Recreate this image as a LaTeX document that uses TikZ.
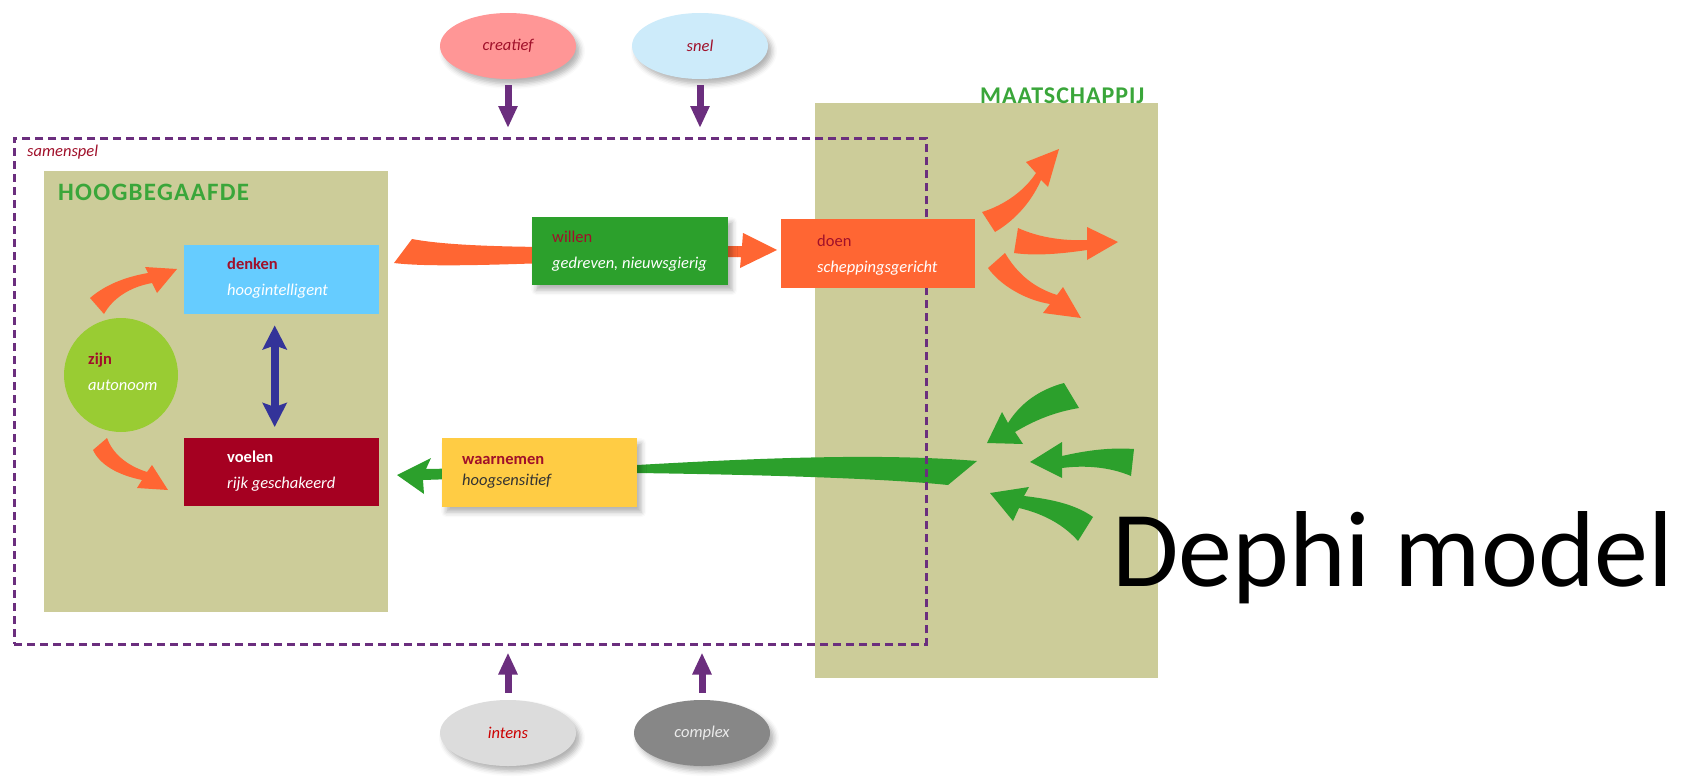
\documentclass[tikz,border=0pt]{standalone}
\usepackage{fontspec}
\setmainfont{Carlito}
\usetikzlibrary{shapes.geometric,arrows.meta,shadows.blur}
\definecolor{colive}{HTML}{CCCC99}
\definecolor{cblue}{HTML}{66CCFF}
\definecolor{cdred}{HTML}{A50021}
\definecolor{cgreenl}{HTML}{99CC33}
\definecolor{cgreen}{HTML}{2CA02C}
\definecolor{corange}{HTML}{FF6633}
\definecolor{cyellow}{HTML}{FFCC44}
\definecolor{cpurple}{HTML}{6B2E7E}
\definecolor{cnavy}{HTML}{333399}
\definecolor{cpink}{HTML}{FF9696}
\definecolor{clblue}{HTML}{CDEBFA}
\definecolor{clgray}{HTML}{DCDCDC}
\definecolor{cdgray}{HTML}{878787}
\definecolor{tred}{HTML}{A0102A}
\definecolor{ttitle}{HTML}{3AA63A}
\tikzset{
  box/.style={draw=none, inner sep=0pt, anchor=north west},
  shad/.style={blur shadow={shadow xshift=4pt, shadow yshift=-5pt, shadow blur radius=5pt, shadow opacity=30}},
  lbl/.style={inner sep=0pt, anchor=west, align=left, font=\fontsize{16.5}{26}\selectfont},
  oval/.style={ellipse, inner sep=0pt, minimum width=136pt, minimum height=66pt, font=\fontsize{16.5}{20}\selectfont\itshape, shad},
  parrow/.style={draw=cpurple, line width=7pt, -{Triangle[width=18pt,length=22pt]}},
  barrow/.style={draw=cnavy, line width=8pt, {Stealth[width=24pt,length=24pt,inset=4pt]}-{Stealth[width=24pt,length=24pt,inset=4pt]}},
  heading/.style={inner sep=0pt, anchor=base west, text=ttitle, font=\fontsize{25}{30}\selectfont\bfseries\addfontfeature{LetterSpace=5}}
}
\begin{document}
\begin{tikzpicture}[x=1pt,y=-1pt]
\useasboundingbox (0,0) rectangle (1685,776);
% backgrounds
\node[box, fill=colive, minimum width=343pt, minimum height=575pt] (maat) at (815,103) {};
\node[box, fill=colive, minimum width=344pt, minimum height=441pt] (hoog) at (44,171) {};
% big orange arrow denken -> doen
\fill[corange] (412,239) .. controls (470,250) and (600,247) .. (742,246) -- (743,233) -- (777,250) -- (740,268) -- (741,257) .. controls (600,259) and (450,270) .. (394,263) -- cycle;
% big green arrow -> waarnemen -> voelen
\fill[cgreen] (977,461) .. controls (880,453) and (760,458) .. (637,465) -- (426,469) -- (431,458) -- (397,475) -- (424,494) -- (423,480) -- (637,473) .. controls (780,475) and (890,479) .. (948,485) -- cycle;
% dashed frame
\node[box, draw=cpurple, line width=2.5pt, dash pattern=on 8pt off 5pt, minimum width=912pt, minimum height=506pt] (sam) at (13,137) {};
% boxes
\node[box, fill=cblue, minimum width=195pt, minimum height=69pt] (denken) at (184,245) {};
\node[box, fill=cdred, minimum width=195pt, minimum height=68pt] (voelen) at (184,438) {};
\node[circle, fill=cgreenl, minimum size=114pt, inner sep=0pt] (zijn) at (121,375) {};
\node[box, fill=cgreen, minimum width=196pt, minimum height=68pt, shad] (willen) at (532,217) {};
\node[box, fill=corange, minimum width=194pt, minimum height=69pt] (doen) at (781,219) {};
\node[box, fill=cyellow, minimum width=195pt, minimum height=69pt, shad] (waar) at (442,438) {};
% labels
\node[lbl] (denkenT) at (227,278) {\textcolor{tred}{\bfseries denken}\\\textcolor{white}{\itshape hoogintelligent}};
\node[lbl] (voelenT) at (227,471) {\textcolor{white}{\bfseries voelen}\\\textcolor{white}{\itshape rijk geschakeerd}};
\node[lbl] (zijnT) at (88,372) {\textcolor{tred}{\bfseries zijn}\\\textcolor{white}{\itshape autonoom}};
\node[lbl] (willenT) at (552,251) {\textcolor{tred}{willen}\\\textcolor{white}{\itshape gedreven, nieuwsgierig}};
\node[lbl] (doenT) at (817,255) {\textcolor{tred}{doen}\\\textcolor{white}{\itshape scheppingsgericht}};
\node[lbl, font=\fontsize{16.5}{21}\selectfont] (waarT) at (462,472) {\textcolor{tred}{\bfseries waarnemen}\\\textcolor{black!80}{\itshape hoogsensitief}};
% blue double arrow
\draw[barrow, shorten <=11pt, shorten >=11pt] ([xshift=-7pt]denken.south) -- ([xshift=-7pt]voelen.north);
% small orange arrows from zijn
\fill[corange] (90,298) .. controls (105,285) and (125,277) .. (148,273) -- (145,267) -- (177,269) -- (157,293) -- (152,283) .. controls (130,287) and (113,298) .. (104,314) -- cycle;
\fill[corange] (107,438) .. controls (112,452) and (125,465) .. (147,472) -- (152,465) -- (168,490) -- (137,488) -- (142,480) .. controls (118,475) and (100,465) .. (93,450) -- cycle;
% orange fan out of doen
\fill[corange] (982,212) .. controls (1005,205) and (1025,190) .. (1036,173) -- (1026,162) -- (1059,149) -- (1048,187) -- (1041,180) .. controls (1030,205) and (1012,222) .. (995,232) -- cycle;
\fill[corange] (1018,228) .. controls (1040,238) and (1065,241) .. (1087,240) -- (1087,227) -- (1118,242) -- (1087,260) -- (1087,250) .. controls (1060,254) and (1035,256) .. (1014,253) -- cycle;
\fill[corange] (1005,253) .. controls (1018,275) and (1035,288) .. (1057,295) -- (1063,287) -- (1081,318) -- (1043,313) -- (1050,304) .. controls (1025,300) and (1000,285) .. (988,268) -- cycle;
% green fan in
\fill[cgreen] (1064,383) .. controls (1038,390) and (1020,404) .. (1008,423) -- (1002,412) -- (987,443) -- (1023,444) -- (1015,432) .. controls (1035,420) and (1055,412) .. (1079,408) -- cycle;
\fill[cgreen] (1134,449) .. controls (1105,447) and (1080,452) .. (1062,456) -- (1062,442) -- (1030,462) -- (1062,478) -- (1062,468) .. controls (1085,465) and (1110,467) .. (1131,476) -- cycle;
\fill[cgreen] (1024,496) .. controls (1050,499) and (1075,504) .. (1093,517) -- (1078,541) .. controls (1065,526) and (1045,514) .. (1019,508) -- (1013,521) -- (990,493) -- (1029,487) -- cycle;
% ellipses
\node[oval, fill=cpink, text=tred] (creatief) at (508,46) {creatief};
\node[oval, fill=clblue, text=tred] (snel) at (700,46) {snel};
\node[oval, fill=clgray, text=red!80!black] (intens) at (508,733) {intens};
\node[oval, fill=cdgray, text=white!92!black] (complex) at (702,733) {complex};
\draw[parrow, shorten <=6pt, shorten >=9pt] (creatief.south) -- (creatief.south |- sam.north);
\draw[parrow, shorten <=6pt, shorten >=9pt] (snel.south) -- (snel.south |- sam.north);
\draw[parrow, shorten <=7pt, shorten >=7pt] (intens.north) -- (intens.north |- sam.south);
\draw[parrow, shorten <=7pt, shorten >=7pt] (complex.north) -- (complex.north |- sam.south);
% headings
\node[inner sep=0pt, anchor=west, text=tred, font=\fontsize{16.5}{20}\selectfont\itshape] (samT) at (27,152) {samenspel};
\node[heading] (hoogT) at (58,200) {HOOGBEGAAFDE};
\node[heading, font=\fontsize{24}{30}\selectfont\bfseries\addfontfeature{LetterSpace=4}] (maatT) at (980,103) {MAATSCHAPPIJ};
\node[inner sep=0pt, anchor=base west, font=\fontsize{108}{120}\selectfont] (dephi) at (1112,586) {Dephi model};
\end{tikzpicture}
\end{document}
